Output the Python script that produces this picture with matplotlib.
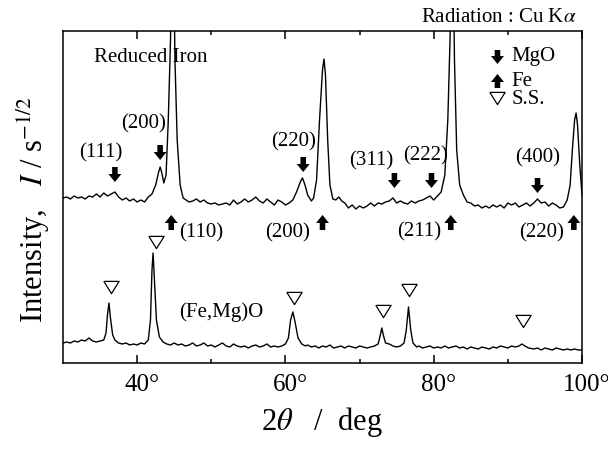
import matplotlib
matplotlib.use("Agg")
import matplotlib.pyplot as plt
from matplotlib.patches import FancyArrow
from matplotlib.transforms import ScaledTranslation
import numpy as np

plt.rcParams['font.family'] = ['Liberation Serif', 'DejaVu Serif']
plt.rcParams['mathtext.fontset'] = 'stix'

# ---- data (2theta in deg, intensity in arbitrary units: 0 = bottom of frame) ----
top_tt = [30.0, 30.5, 31.0, 31.5, 32.0, 32.5, 33.0, 33.5, 34.0, 34.5, 35.0, 35.5, 36.0, 36.5, 37.0,
          37.5, 38.0, 38.5, 39.0, 39.5, 40.0, 40.5, 41.0, 41.5, 42.0, 42.5, 42.9, 43.1, 43.3, 43.6,
          43.9, 44.2, 44.5, 44.7, 44.9, 45.1, 45.4, 45.8, 46.2, 46.6, 47.0, 47.5, 48.0, 48.5, 49.0,
          49.5, 50.0, 50.5, 51.0, 51.5, 52.0, 52.5, 53.0, 53.5, 54.0, 54.5, 55.0, 55.5, 56.0, 56.5,
          57.0, 57.5, 58.0, 58.5, 59.0, 59.5, 60.0, 60.5, 61.0, 61.5, 62.0, 62.3, 62.6, 63.0, 63.5,
          63.8, 64.2, 64.6, 65.0, 65.2, 65.4, 65.7, 66.0, 66.4, 66.8, 67.2, 67.6, 68.0, 68.5, 69.0,
          69.5, 70.0, 70.5, 71.0, 71.5, 72.0, 72.5, 73.0, 73.5, 74.0, 74.5, 75.0, 75.5, 76.0, 76.5,
          77.0, 77.5, 78.0, 78.5, 79.0, 79.5, 80.0, 80.5, 81.0, 81.5, 81.9, 82.2, 82.4, 82.6, 82.8,
          83.1, 83.5, 84.0, 84.5, 85.0, 85.5, 86.0, 86.5, 87.0, 87.5, 88.0, 88.5, 89.0, 89.5, 90.0,
          90.5, 91.0, 91.5, 92.0, 92.5, 93.0, 93.5, 94.0, 94.5, 95.0, 95.5, 96.0, 96.5, 97.0, 97.5,
          98.0, 98.4, 98.7, 99.0, 99.2, 99.4, 99.7, 100.0]
top_int = [165, 166, 164, 167, 165, 166, 164, 167, 166, 169, 166, 170, 167, 169, 171,
           166, 163, 165, 162, 164, 161, 163, 161, 166, 169, 178, 191, 196, 191, 180,
           188, 243, 323, 420, 420, 303, 223, 178, 165, 163, 161, 162, 164, 161, 163,
           160, 159, 160, 158, 159, 160, 158, 163, 159, 161, 164, 161, 163, 166, 162,
           160, 164, 161, 158, 163, 161, 158, 160, 163, 171, 181, 185, 179, 168, 162,
           165, 183, 243, 293, 304, 288, 223, 178, 164, 163, 166, 162, 160, 155, 158,
           154, 157, 155, 157, 160, 157, 160, 159, 161, 162, 165, 160, 162, 160, 159,
           162, 160, 162, 163, 165, 167, 163, 167, 171, 188, 243, 323, 420, 420, 303,
           213, 178, 168, 161, 160, 157, 158, 155, 157, 155, 158, 156, 158, 155, 160,
           158, 160, 156, 158, 160, 157, 160, 164, 160, 161, 157, 160, 158, 155, 156,
           163, 178, 213, 243, 250, 238, 198, 168]

bot_tt = [30.0, 30.5, 31.0, 31.5, 32.0, 32.5, 33.0, 33.5, 34.0, 34.5, 35.0, 35.5, 35.8, 36.0, 36.2,
          36.4, 36.7, 37.0, 37.5, 38.0, 38.5, 39.0, 39.5, 40.0, 40.5, 41.0, 41.5, 41.8, 42.0, 42.15,
          42.3, 42.6, 43.0, 43.5, 44.0, 44.5, 45.0, 45.5, 46.0, 46.5, 47.0, 47.5, 48.0, 48.5, 49.0,
          49.5, 50.0, 50.5, 51.0, 51.5, 52.0, 52.5, 53.0, 53.5, 54.0, 54.5, 55.0, 55.5, 56.0, 56.5,
          57.0, 57.5, 58.0, 58.5, 59.0, 59.5, 60.0, 60.4, 60.7, 61.0, 61.3, 61.7, 62.2, 62.7, 63.0,
          63.5, 64.0, 64.5, 65.0, 65.5, 66.0, 66.5, 67.0, 67.5, 68.0, 68.5, 69.0, 69.5, 70.0, 70.5,
          71.0, 71.5, 72.0, 72.5, 72.8, 73.0, 73.2, 73.5, 74.0, 74.5, 75.0, 75.5, 76.0, 76.3, 76.6,
          76.9, 77.2, 77.7, 78.0, 78.5, 79.0, 79.5, 80.0, 80.5, 81.0, 81.5, 82.0, 82.5, 83.0, 83.5,
          84.0, 84.5, 85.0, 85.5, 86.0, 86.5, 87.0, 87.5, 88.0, 88.5, 89.0, 89.5, 90.0, 90.5, 91.0,
          91.5, 91.9, 92.3, 92.8, 93.5, 94.0, 94.5, 95.0, 95.5, 96.0, 96.5, 97.0, 97.5, 98.0, 98.5,
          99.0, 99.5, 100.0]
bot_int = [20, 21, 20, 22, 21, 23, 22, 25, 22, 21, 22, 23, 30, 48, 60,
           45, 28, 23, 20, 19, 20, 18, 19, 18, 20, 19, 23, 43, 93, 110,
           88, 43, 26, 21, 19, 18, 20, 18, 19, 17, 18, 20, 17, 18, 20,
           17, 18, 16, 18, 20, 17, 16, 19, 17, 16, 17, 15, 17, 18, 16,
           17, 19, 16, 17, 16, 17, 19, 25, 43, 51, 41, 25, 19, 17, 18,
           16, 17, 15, 17, 16, 18, 15, 16, 17, 15, 17, 16, 15, 17, 16,
           15, 16, 17, 19, 28, 35, 28, 20, 19, 17, 16, 17, 20, 33, 56,
           33, 20, 16, 17, 15, 16, 17, 15, 16, 15, 17, 15, 16, 17, 15,
           16, 14, 16, 15, 14, 16, 15, 14, 16, 15, 17, 16, 15, 17, 16,
           17, 19, 17, 15, 14, 15, 13, 15, 14, 13, 15, 14, 13, 14, 13,
           14, 13, 13]

# MgO (down arrows) : position, label
mgo_pos = [37.0, 43.1, 62.4, 74.7, 79.7, 94.0]
mgo_lab = ['(111)', '(200)', '(220)', '(311)', '(222)', '(400)']
mgo_tip = [181, 203, 191, 175, 175, 170]
mgo_lab_xy = [(35.1, 210), (40.9, 239), (61.1, 221), (71.6, 202), (78.9, 207), (94.0, 205)]

# Fe (up arrows)
fe_pos = [44.6, 65.0, 82.3, 98.9]
fe_lab = ['(110)', '(200)', '(211)', '(220)']
fe_lab_xy = [(48.6, 130), (60.3, 130), (78.0, 131), (94.6, 130)]

# Solid solution (open triangles)
ss_pos = [36.5, 42.5, 61.1, 73.1, 76.6, 92.0]
ss_h = [76, 121, 65, 52, 73, 42]

xticks_major = [40, 60, 80, 100]
xtick_labels = ['40°', '60°', '80°', '100°']

# ---- figure ----
fig = plt.figure(figsize=(6.08, 4.55), dpi=100)
ax = fig.add_axes([63/608, 92/455, 519/608, 332/455])
ax.set_xlim(30, 100)
ax.set_ylim(0, 332)

ax.plot(top_tt, top_int, color='black', lw=1.0)
ax.plot(bot_tt, bot_int, color='black', lw=1.0)

def arrow(x, y0, y1):
    ax.add_patch(FancyArrow(x, y0, 0, y1 - y0, width=0.75, head_width=1.75,
                            head_length=8, length_includes_head=True,
                            color='black', lw=0))

fs_lab = 15
for x, t, (lx, ly), lab in zip(mgo_pos, mgo_tip, mgo_lab_xy, mgo_lab):
    arrow(x, t + 15, t)
    ax.text(lx, ly, lab, ha='center', va='center', fontsize=fs_lab)

for x, (lx, ly), lab in zip(fe_pos, fe_lab_xy, fe_lab):
    arrow(x, 133, 148)
    ax.text(lx, ly, lab, ha='center', va='center', fontsize=fs_lab)

tri = [(-1, 0.8), (1, 0.8), (0, -0.8), (-1, 0.8)]
ax.plot(ss_pos, ss_h, linestyle='none', marker=tri, markersize=11,
        markerfacecolor='white', markeredgecolor='black', markeredgewidth=0.9)

# legend
arrow(88.6, 313, 299)
arrow(88.6, 275, 289)
ax.plot([88.5], [265], linestyle='none', marker=tri, markersize=11,
        markerfacecolor='white', markeredgecolor='black', markeredgewidth=0.9)
ax.text(90.5, 306, 'MgO', ha='left', va='center', fontsize=fs_lab)
ax.text(90.5, 282, 'Fe', ha='left', va='center', fontsize=fs_lab)
ax.text(90.5, 263, 'S.S.', ha='left', va='center', fontsize=fs_lab)

ax.text(41.9, 306, 'Reduced Iron', ha='center', va='center', fontsize=15)
ax.text(51.3, 51, '(Fe,Mg)O', ha='center', va='center', fontsize=15)
fig.text(499/608, 1 - 17/455, 'Radiation : Cu K$\\alpha$', ha='center', va='center', fontsize=15)

# axes styling
ax.set_xticks(xticks_major)
ax.set_xticklabels(xtick_labels, fontsize=18)
ax.set_xticks([50, 70, 90], minor=True)
ax.tick_params(axis='x', which='both', direction='in', top=True, bottom=True)
ax.tick_params(axis='x', which='major', length=6, width=1.1, pad=8)
ax.tick_params(axis='x', which='minor', length=3, width=1.1)
ax.set_yticks([])
for sp in ax.spines.values():
    sp.set_linewidth(1.1)
off = ScaledTranslation(5/100, 0, fig.dpi_scale_trans)
for lbl in ax.get_xticklabels():
    lbl.set_transform(lbl.get_transform() + off)

fig.text(322/608, 1 - 422/455, '2$\\theta$   /  deg', ha='center', va='center', fontsize=22)
fig.text(33/608, 1 - 210/455, 'Intensity,   $I$ / s$^{-1/2}$', ha='center', va='center',
         rotation=90, fontsize=22)

fig.savefig('out.png', dpi=100)
